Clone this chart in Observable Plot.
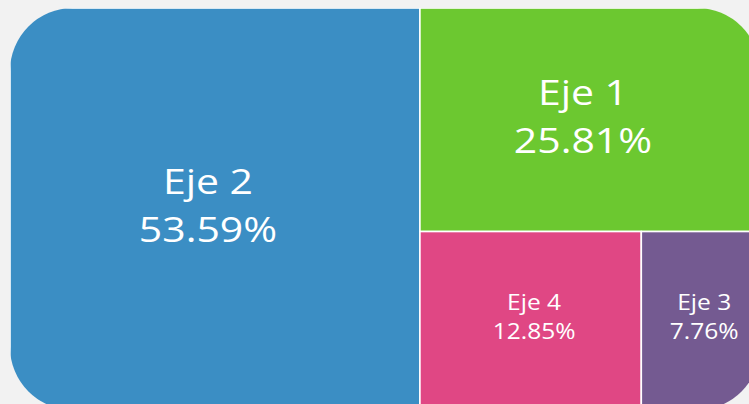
<!DOCTYPE html>
<html>
<head>
<meta charset="utf-8">
<script src="https://cdn.jsdelivr.net/npm/d3@7"></script>
<script src="https://cdn.jsdelivr.net/npm/@observablehq/plot@0.6"></script>
<style>
  html, body { margin: 0; padding: 0; background: #f2f2f2; }
  #chart { width: 749px; height: 404px; overflow: hidden; }
</style>
</head>
<body>
<div id="chart"></div>
<script>
// Data
const categories = ["Eje 2", "Eje 1", "Eje 4", "Eje 3"];
const shares = [53.59, 25.81, 12.85, 7.76];
const colors = ["#3B8EC4", "#6CC830", "#E04784", "#745A91"];

// Treemap layout (squarified) computed from the values
const W = 765, H = 402;      // layout space
const visibleRight = 750;    // part of the layout space that is shown
const root = d3.hierarchy({children: categories.map((c, i) => ({name: c, value: shares[i]}))})
  .sum(d => d.value || 0)
  .sort((a, b) => b.value - a.value);
d3.treemap().size([W, H]).tile(d3.treemapSquarify.ratio(1))(root);
const cells = root.leaves().map(d => ({
  name: d.data.name,
  value: d.data.value,
  x1: d.x0, x2: d.x1, y1: d.y0, y2: d.y1,
  cx: (d.x0 + Math.min(d.x1, visibleRight)) / 2,
  cy: (d.y0 + d.y1) / 2,
  big: d.data.value > 20
}));
const label = d => `${d.name}\n${d.value.toFixed(2)}%`;

const chart = Plot.plot({
  width: 749,
  height: 404,
  margin: 0,
  style: {background: "#f2f2f2", fontFamily: "'Open Sans', sans-serif"},
  x: {domain: [0, W], range: [10, 10 + W], axis: null},
  y: {domain: [0, H], range: [8, 8 + H], axis: null},
  color: {domain: categories, range: colors},
  marks: [
    Plot.rect(cells, {x1: "x1", x2: "x2", y1: "y1", y2: "y2", fill: "name", stroke: "white", strokeWidth: 1.6}),
    Plot.text(cells.filter(d => d.big), {
      x: "cx", y: "cy", text: label, fill: "white",
      fontSize: 35, lineHeight: 1.38, dx: -7.5, dy: -7,
      fontFamily: "'Open Sans', sans-serif", fontWeight: 400
    }),
    Plot.text(cells.filter(d => !d.big), {
      x: "cx", y: "cy", text: label, fill: "white",
      fontSize: 21, lineHeight: 1.38, dx: 3, dy: -6,
      fontFamily: "'Open Sans', sans-serif", fontWeight: 400
    })
  ]
});

// Rounded outer container: clip the tiles to a rounded rectangle
const svg = d3.select(chart);
svg.insert("defs", ":first-child")
  .append("clipPath").attr("id", "round-clip")
  .append("rect")
  .attr("x", 10).attr("y", 8)
  .attr("width", 750).attr("height", 402)
  .attr("rx", 63).attr("ry", 63);
svg.selectAll("g[aria-label='rect']").attr("clip-path", "url(#round-clip)");
// The reference's lettering is slightly wide: stretch each label horizontally about its anchor
svg.selectAll("g[aria-label='text'] text").each(function() {
  const t = this.getAttribute("transform") || "";
  this.setAttribute("transform", t + " scale(1.17,1)");
});

document.getElementById("chart").appendChild(chart);
</script>
</body>
</html>
